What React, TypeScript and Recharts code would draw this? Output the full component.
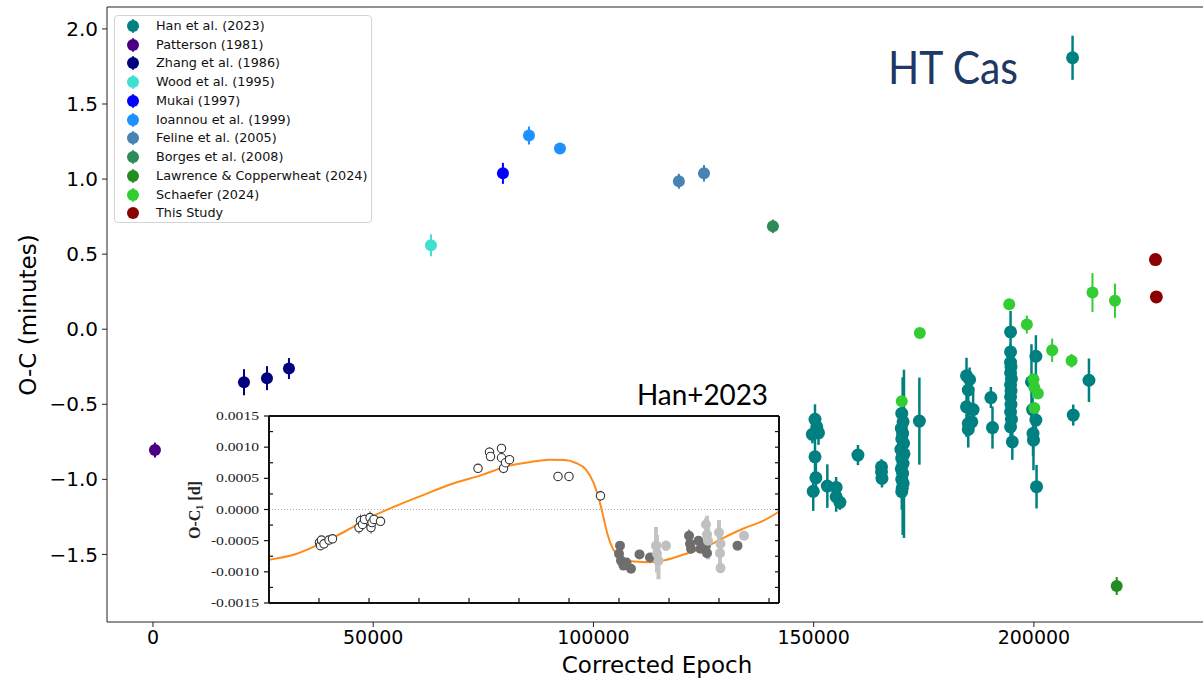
import React from "react";
import {
  ScatterChart,
  ComposedChart,
  Scatter,
  Line,
  XAxis,
  YAxis,
  ErrorBar,
  ReferenceLine,
} from "recharts";

// O-C timings per source: [corrected epoch, O-C (minutes), error]
const han: [number, number, number][] = [
  [208780, 1.808, 0.147],
  [150300, -0.6, 0.1], [150700, -0.65, 0.08], [149700, -0.7, 0.06], [151100, -0.69, 0.08],
  [150300, -0.85, 0.12], [150500, -0.99, 0.1], [149900, -1.08, 0.13],
  [153100, -1.045, 0.145], [155100, -1.054, 0.07], [155100, -1.116, 0.1], [155960, -1.153, 0.05],
  [160050, -0.838, 0.067],
  [165400, -0.916, 0.05], [165400, -0.95, 0.05], [165500, -0.994, 0.06],
  [170000, -0.561, 0.08], [170300, -0.617, 0.1], [169900, -0.66, 0.06], [170200, -0.694, 0.08],
  [170000, -0.73, 0.1], [170400, -0.76, 0.06], [169800, -0.8, 0.08], [170200, -0.845, 0.525],
  [170500, -0.83, 0.56], [170000, -0.86, 0.1], [170300, -0.893, 0.1], [169900, -0.93, 0.08],
  [170200, -0.96, 0.1], [170000, -1.0, 0.08], [170300, -1.027, 0.1], [170100, -1.06, 0.1],
  [170000, -1.082, 0.12],
  [174000, -0.612, 0.29],
  [184700, -0.31, 0.12], [185400, -0.335, 0.08], [185100, -0.405, 0.08], [184700, -0.517, 0.2],
  [186200, -0.535, 0.12], [185100, -0.628, 0.08], [185900, -0.617, 0.08], [185100, -0.668, 0.12],
  [190230, -0.455, 0.07], [190600, -0.655, 0.14],
  [194700, -0.018, 0.14], [194700, -0.151, 0.05], [194700, -0.22, 0.05], [194800, -0.25, 0.05],
  [194700, -0.29, 0.06], [194900, -0.33, 0.05], [194700, -0.37, 0.06], [194800, -0.41, 0.05],
  [194700, -0.45, 0.06], [194800, -0.5, 0.06], [194700, -0.55, 0.07], [194900, -0.6, 0.07],
  [194700, -0.65, 0.1], [195100, -0.75, 0.12],
  [200450, -0.18, 0.14], [199450, -0.35, 0.25], [199700, -0.535, 0.08], [200450, -0.605, 0.06],
  [199800, -0.694, 0.15], [199900, -0.739, 0.2], [200600, -1.049, 0.145],
  [208930, -0.572, 0.07], [212500, -0.34, 0.145],
];
const patterson: [number, number, number][] = [[450, -0.805, 0.05]];
const zhang: [number, number, number][] = [
  [20660, -0.353, 0.087], [25880, -0.326, 0.08], [30870, -0.262, 0.07],
];
const wood: [number, number, number][] = [[63110, 0.559, 0.073]];
const mukai: [number, number, number][] = [[79450, 1.038, 0.07]];
const ioannou: [number, number, number][] = [[85360, 1.29, 0.06], [92400, 1.204, 0.03]];
const feline: [number, number, number][] = [[119400, 0.985, 0.05], [125100, 1.038, 0.055]];
const borges: [number, number, number][] = [[140750, 0.685, 0.045]];
const lawrence: [number, number, number][] = [[218800, -1.71, 0.06]];
const schaefer: [number, number, number][] = [
  [170000, -0.48, 0.03], [174100, -0.025, 0.03], [194400, 0.166, 0.03], [198400, 0.031, 0.06],
  [199900, -0.333, 0.03], [200100, -0.388, 0.03], [200900, -0.428, 0.03], [200100, -0.524, 0.03],
  [204150, -0.14, 0.078], [208550, -0.21, 0.045], [213300, 0.244, 0.13], [218400, 0.19, 0.114],
];
const thisStudy: [number, number, number][] = [[227600, 0.464, 0], [227800, 0.215, 0]];

const epochTicks = [0, 50000, 100000, 150000, 200000];
const ocTicks = [-1.5, -1.0, -0.5, 0.0, 0.5, 1.0, 1.5, 2.0];

// Inset (Han+2023 figure): [x position, O-C1 (d), error]
const insetOpen: [number, number, number][] = [
  [1.01, -0.00053, 0.00006], [1.03, -0.00058, 0.00006], [1.05, -0.00049, 0.00006], [1.1, -0.00055, 0.00005],
  [1.2, -0.00049, 0.00005], [1.27, -0.00047, 0.00005],
  [1.8, -0.00029, 0.0001], [1.83, -0.00018, 0.0001], [1.87, -0.00024, 0.00008], [1.91, -0.00016, 0.00008],
  [2.02, -0.00013, 0.0001], [2.04, -0.00029, 0.0001], [2.06, -0.00021, 0.00008], [2.1, -0.00016, 0.00006],
  [2.23, -0.00019, 0.00006],
  [4.18, 0.00066, 0.00006], [4.41, 0.00092, 0.00008], [4.43, 0.00085, 0.00006], [4.65, 0.00098, 0.00006],
  [4.65, 0.00083, 0.00006], [4.69, 0.00066, 0.00008], [4.73, 0.00075, 0.00006], [4.81, 0.0008, 0.00006],
  [5.78, 0.00053, 0.00006], [6.0, 0.00053, 0.00006], [6.63, 0.00022, 0.00008],
];
const insetDark: [number, number, number][] = [
  [7.02, -0.00058, 0.00006], [7.0, -0.00071, 0.0001], [7.04, -0.00082, 0.0001], [7.09, -0.0009, 0.00006],
  [7.15, -0.00085, 0.00006], [7.24, -0.00095, 0.00006], [7.41, -0.00072, 0.00004], [7.62, -0.00077, 0.00004],
  [8.4, -0.00042, 0.0001], [8.42, -0.00055, 0.0001], [8.44, -0.00063, 0.00008], [8.59, -0.0005, 0.00006],
  [8.63, -0.00063, 0.00006], [8.74, -0.00058, 0.00008], [8.76, -0.0007, 0.00006], [9.37, -0.00058, 0.00006],
];
const insetLight: [number, number, number][] = [
  [7.74, -0.00058, 0.0003], [7.76, -0.00071, 0.0003], [7.79, -0.00082, 0.0003], [7.94, -0.00058, 0.00008],
  [8.74, -0.00024, 0.0001], [8.76, -0.0004, 0.0003], [8.78, -0.0005, 0.0003], [9.0, -0.00037, 0.0002],
  [9.03, -0.00055, 0.0002], [9.02, -0.0007, 0.0002], [9.03, -0.00094, 0.00008], [9.5, -0.00042, 0.00006],
];
// fitted light-travel-time curve
const insetFit: [number, number][] = [
  [0, -0.000805], [0.54, -0.000714], [1.01, -0.000555], [1.48, -0.000369], [2.02, -0.00013],
  [2.49, 0.00004], [3.03, 0.000215], [3.65, 0.00041], [4.28, 0.00056], [4.74, 0.00069],
  [5.21, 0.000757], [5.6, 0.0008], [5.91, 0.000794], [6.14, 0.000746], [6.34, 0.00064],
  [6.49, 0.00043], [6.61, 0.000135], [6.69, -0.00013], [6.77, -0.000396], [6.88, -0.000635],
  [7.04, -0.000767], [7.31, -0.000836], [7.62, -0.000847], [7.93, -0.00081], [8.32, -0.000714],
  [8.71, -0.000608], [9.1, -0.00045], [9.49, -0.000305], [9.88, -0.000183], [10.19, -0.00004],
];
const insetXTicks = [1, 2, 3, 4, 5, 6, 7, 8, 9, 10];
const insetYTicks = [-0.0015, -0.001, -0.0005, 0, 0.0005, 0.001, 0.0015];
const insetYMinor = [-0.00125, -0.00075, -0.00025, 0.00025, 0.00075, 0.00125];

const series = [
  { name: "Han et al. (2023)", data: han, color: "#008080", r: 6.5, ew: 2.5 },
  { name: "Patterson (1981)", data: patterson, color: "#4b0082", r: 6, ew: 2 },
  { name: "Zhang et al. (1986)", data: zhang, color: "#000080", r: 6, ew: 2 },
  { name: "Wood et al. (1995)", data: wood, color: "#40e0d0", r: 6, ew: 2 },
  { name: "Mukai (1997)", data: mukai, color: "#0000ff", r: 6, ew: 2 },
  { name: "Ioannou et al. (1999)", data: ioannou, color: "#1e90ff", r: 6, ew: 2 },
  { name: "Feline et al. (2005)", data: feline, color: "#4682b4", r: 6, ew: 2 },
  { name: "Borges et al. (2008)", data: borges, color: "#2e8b57", r: 6, ew: 2 },
  { name: "Lawrence & Copperwheat (2024)", data: lawrence, color: "#228b22", r: 6, ew: 2 },
  { name: "Schaefer (2024)", data: schaefer, color: "#32cd32", r: 6, ew: 2 },
  { name: "This Study", data: thisStudy, color: "#8b0000", r: 6.5, ew: 0 },
];

const toPts = (a: [number, number, number][]) => a.map(([x, y, err]) => ({ x, y, err }));
const toInset = (a: [number, number, number][]) => a.map(([u, v, e]) => ({ u, v, e }));

const dot = (r: number, fill: string, stroke = "none", sw = 0) => (p: any) =>
  <circle cx={p.cx} cy={p.cy} r={r} fill={fill} stroke={stroke} strokeWidth={sw} />;

const fmtOC = (v: number) => (v < 0 ? "\u2212" : "") + Math.abs(v).toFixed(1);

// tick lines only, no label
const noLabel = () => <g />;

const InsetTick = (p: any) => {
  const s = Number(p.payload.value).toFixed(4);
  const em = s.replace(/[-.]/g, "").length * 0.5 + (s.includes("-") ? 0.333 : 0) + 0.25;
  return (
    <text x={p.x} y={p.y} dy={4} textAnchor="end" fontFamily="Liberation Serif" fontSize={12}
      fill="#222" textLength={em * 12 * 1.3} lengthAdjust="spacingAndGlyphs">{s}</text>
  );
};

const DEJAVU = "DejaVu Sans";
const ax = "#222";
const frame = { stroke: "#111", strokeWidth: 2 };
const tl = { stroke: "#111", strokeWidth: 1.2 };

export default function App() {
  return (
    <div style={{ position: "fixed", left: 0, top: 0, width: 1203, height: 684, overflow: "hidden", background: "#fff" }}>
      <ScatterChart width={1210} height={684} margin={{ top: 7, right: 3, bottom: 0, left: 0 }}>
        <XAxis type="number" dataKey="x" domain={[-10440, 239300]} allowDataOverflow ticks={epochTicks}
          interval={0} height={62} tickSize={5} tickMargin={4} stroke={ax}
          tick={{ fontSize: 19, fill: "#000", fontFamily: DEJAVU }} />
        <YAxis type="number" dataKey="y" domain={[-1.95, 2.146]} allowDataOverflow ticks={ocTicks}
          interval={0} width={107} tickSize={5} tickMargin={4} stroke={ax} tickFormatter={fmtOC}
          tick={{ fontSize: 20, fill: "#000", fontFamily: DEJAVU }} />
        <ReferenceLine y={2.146} stroke={ax} ifOverflow="visible" />
        <ReferenceLine x={239300} stroke={ax} ifOverflow="visible" />
        {series.map((s) => (
          <Scatter key={s.name} name={s.name} data={toPts(s.data)} dataKey="y" isAnimationActive={false}
            shape={dot(s.r, s.color)}>
            {s.ew > 0 && (
              <ErrorBar dataKey="err" direction="y" width={0} stroke={s.color} strokeWidth={s.ew} />
            )}
          </Scatter>
        ))}
      </ScatterChart>

      {/* inset: Han+2023 O-C diagram */}
      <div style={{ position: "absolute", left: 180, top: 405, width: 610, height: 205, background: "#fff" }}>
        <ComposedChart width={610} height={205} margin={{ top: 11, right: 11, bottom: 7, left: 0 }}>
          <XAxis type="number" dataKey="u" domain={[0, 10.2]} allowDataOverflow ticks={insetXTicks}
            interval={0} mirror tick={noLabel} tickSize={5} axisLine={frame} tickLine={tl} />
          <XAxis xAxisId="t" orientation="top" type="number" domain={[0, 10.2]} allowDataOverflow
            ticks={insetXTicks} interval={0} mirror tick={noLabel} tickSize={5} axisLine={frame} tickLine={tl} />
          <YAxis type="number" dataKey="v" domain={[-0.0015, 0.0015]} allowDataOverflow ticks={insetYTicks}
            interval={0} width={89} tickSize={5} tickMargin={5} tick={<InsetTick />}
            axisLine={frame} tickLine={tl} />
          <YAxis yAxisId="lm" type="number" domain={[-0.0015, 0.0015]} allowDataOverflow ticks={insetYMinor}
            interval={0} width={20} mirror tick={noLabel} tickSize={4} axisLine={false} tickLine={tl} />
          <YAxis yAxisId="r" orientation="right" type="number" domain={[-0.0015, 0.0015]} allowDataOverflow
            ticks={[...insetYTicks, ...insetYMinor]} interval={0} width={20} mirror tick={noLabel} tickSize={4}
            axisLine={frame} tickLine={tl} />
          <ReferenceLine y={0} stroke="#999" strokeWidth={0.8} strokeDasharray="1 2" />
          <Scatter data={toInset(insetDark)} dataKey="v" isAnimationActive={false} shape={dot(5, "#6e6e6e")}>
            <ErrorBar dataKey="e" direction="y" width={0} stroke="#6e6e6e" strokeWidth={1.5} />
          </Scatter>
          <Scatter data={toInset(insetLight)} dataKey="v" isAnimationActive={false} shape={dot(5, "#c0c0c0")}>
            <ErrorBar dataKey="e" direction="y" width={0} stroke="#c4c4c4" strokeWidth={4} />
          </Scatter>
          <Line data={insetFit.map(([u, v]) => ({ u, v }))} dataKey="v" type="monotone" stroke="#ff8c1a"
            strokeWidth={2} dot={false} isAnimationActive={false} />
          <Scatter data={toInset(insetOpen)} dataKey="v" isAnimationActive={false}
            shape={dot(4.2, "#fff", "#333", 1.1)}>
            <ErrorBar dataKey="e" direction="y" width={0} stroke="#555" strokeWidth={1} />
          </Scatter>
        </ComposedChart>
      </div>

      {/* legend */}
      <div style={{ position: "absolute", left: 114, top: 15, width: 256, height: 206, border: "1px solid #d4d4d4",
        borderRadius: 4, background: "rgba(255,255,255,0.8)", fontFamily: DEJAVU, fontSize: 12.8, color: "#111" }}>
        {series.map((s, i) => (
          <div key={s.name} style={{ position: "absolute", left: 0, top: 10 + 18.73 * i - 9, height: 18, width: 256 }}>
            <svg width={20} height={18} style={{ position: "absolute", left: 8, top: 0 }}>
              {s.ew > 0 && <line x1={10} x2={10} y1={2} y2={16} stroke={s.color} strokeWidth={1.5} />}
              <circle cx={10} cy={9} r={6} fill={s.color} />
            </svg>
            <span style={{ position: "absolute", left: 41, top: 0, lineHeight: "18px", whiteSpace: "nowrap" }}>{s.name}</span>
          </div>
        ))}
      </div>

      {/* free text */}
      <svg width={1203} height={684} style={{ position: "absolute", left: 0, top: 0, pointerEvents: "none" }}>
        <text x={888} y={84} fontFamily="Lato" fontSize={47} fill="#203864" textLength={130}
          lengthAdjust="spacingAndGlyphs">HT Cas</text>
        <text x={637} y={405} fontFamily="Lato" fontSize={28} fill="#000" textLength={131}
          lengthAdjust="spacingAndGlyphs">Han+2023</text>
        <text transform="translate(36,315) rotate(-90)" textAnchor="middle" fontFamily={DEJAVU} fontSize={23}
          fill="#000">O-C (minutes)</text>
        <text x={657} y={673} textAnchor="middle" fontFamily={DEJAVU} fontSize={23} fill="#000">Corrected Epoch</text>
        <text transform="translate(200,510) rotate(-90)" textAnchor="middle" fontFamily="Liberation Serif"
          fontWeight="bold" fontSize={16} fill="#222">
          O-C<tspan fontSize={10} dy={3}>1</tspan><tspan dy={-3}> [d]</tspan>
        </text>
      </svg>
    </div>
  );
}
